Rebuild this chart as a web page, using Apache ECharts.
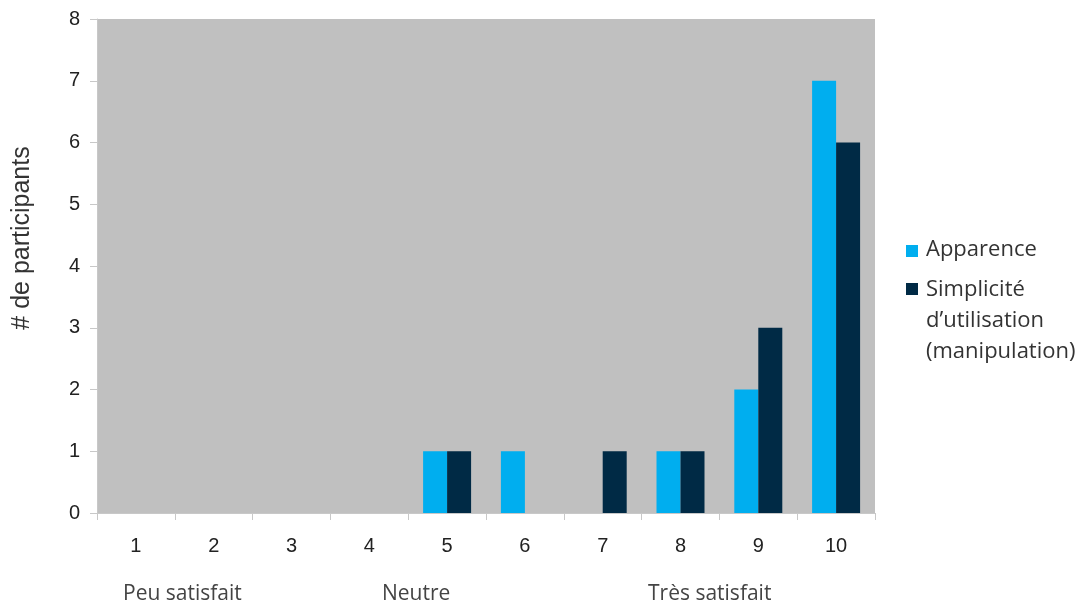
<!DOCTYPE html>
<html>
<head>
<meta charset="utf-8">
<script src="https://cdn.jsdelivr.net/npm/echarts@6/dist/echarts.min.js"></script>
<style>
html,body{margin:0;padding:0;background:#fff;}
#chart{width:1086px;height:605px;}
</style>
</head>
<body>
<div id="chart"></div>
<script>
const categories = ['1','2','3','4','5','6','7','8','9','10'];
const apparence = [0,0,0,0,1,1,0,1,2,7];
const simplicite = [0,0,0,0,1,0,1,1,3,6];
const seriesNames = ['Apparence', 'Simplicité\nd’utilisation\n(manipulation)'];
const yAxisName = '# de participants';
const scaleLabels = ['Peu satisfait', 'Neutre', 'Très satisfait'];

const colors = ['#00aeef', '#002a45'];
const chart = echarts.init(document.getElementById('chart'));
chart.setOption({
  animation: false,
  grid: {left: 97, top: 19, width: 778, height: 494, show: true, backgroundColor: '#c0c0c0', borderWidth: 0},
  xAxis: {
    type: 'category', data: categories,
    axisLine: {show: true, lineStyle: {color: '#c8c8c8'}},
    axisTick: {show: true, length: 7, lineStyle: {color: '#c8c8c8'}},
    axisLabel: {margin: 23, fontSize: 20, color: '#222', fontFamily: 'Liberation Sans'}
  },
  yAxis: {
    type: 'value', min: 0, max: 8, interval: 1,
    axisLine: {show: true, lineStyle: {color: '#c8c8c8'}},
    axisTick: {show: true, length: 7, lineStyle: {color: '#c8c8c8'}},
    splitLine: {show: false},
    axisLabel: {margin: 17, fontSize: 20, color: '#222', fontFamily: 'Liberation Sans'}
  },
  legend: {show: false},
  series: [
    {name: seriesNames[0], type: 'bar', data: apparence, barWidth: 24, barGap: '0%', itemStyle: {color: colors[0]}},
    {name: seriesNames[1], type: 'bar', data: simplicite, barWidth: 24, barGap: '0%', itemStyle: {color: colors[1]}}
  ],
  graphic: [
    {type: 'text', x: 22, y: 238, rotation: Math.PI / 2,
     style: {text: yAxisName, font: '25px "Liberation Sans"', fill: '#333', align: 'center', verticalAlign: 'middle'}},
    {type: 'rect', left: 906, top: 245, shape: {width: 12, height: 12}, style: {fill: colors[0]}},
    {type: 'text', left: 926, top: 239, style: {text: seriesNames[0], font: '22px "Open Sans"', fill: '#333'}},
    {type: 'rect', left: 906, top: 283, shape: {width: 12, height: 12}, style: {fill: colors[1]}},
    {type: 'text', left: 926, top: 274, style: {text: seriesNames[1], font: '22px "Open Sans"', fill: '#333', lineHeight: 31}},
    {type: 'text', left: 123, top: 584, style: {text: scaleLabels[0], font: '21px "Open Sans"', fill: '#444'}},
    {type: 'text', left: 382, top: 584, style: {text: scaleLabels[1], font: '21px "Open Sans"', fill: '#444'}},
    {type: 'text', left: 648, top: 584, style: {text: scaleLabels[2], font: '21px "Open Sans"', fill: '#444'}}
  ]
});
</script>
</body>
</html>
